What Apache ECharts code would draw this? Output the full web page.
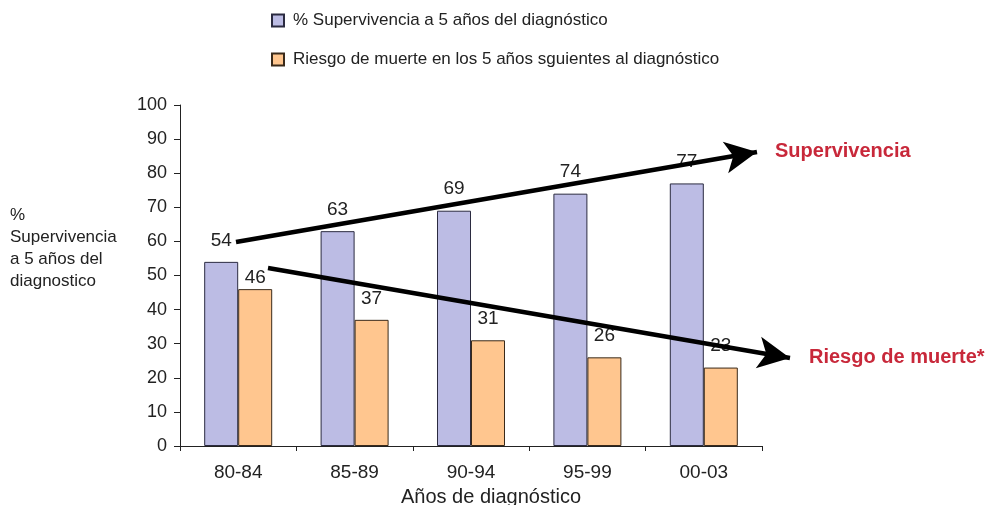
<!DOCTYPE html>
<html>
<head>
<meta charset="utf-8">
<script src="https://cdn.jsdelivr.net/npm/echarts@6/dist/echarts.min.js"></script>
<style>html,body{margin:0;padding:0;background:#fff;}#c{width:985px;height:505px;}</style>
</head>
<body>
<div id="c"></div>
<script>
const categories = ['80-84', '85-89', '90-94', '95-99', '00-03'];
const survival = [54, 63, 69, 74, 77];
const deathRisk = [46, 37, 31, 26, 23];
const yTicks = [0, 10, 20, 30, 40, 50, 60, 70, 80, 90, 100];
const seriesNames = ['% Supervivencia a 5 años del diagnóstico', 'Riesgo de muerte en los 5 años sguientes al diagnóstico'];

const FONT = '"Liberation Sans", Arial, sans-serif';
const chart = echarts.init(document.getElementById('c'));

const arrowLine = (x1, y1, x2, y2) => ({
  symbol: ['none', 'arrow'],
  symbolSize: [24, 32],
  silent: true,
  label: { show: false },
  lineStyle: { color: '#000', width: 4.5, type: 'solid' },
  data: [[{ x: x1, y: y1 }, { x: x2, y: y2 }]]
});

chart.setOption({
  backgroundColor: '#fff',
  animation: false,
  textStyle: { fontFamily: FONT },
  grid: { left: 180, right: 223, top: 105, bottom: 59, containLabel: false, outerBoundsMode: 'none' },
  legend: {
    orient: 'vertical',
    left: 266, top: 7,
    itemWidth: 12, itemHeight: 12, itemGap: 22,
    icon: 'rect',
    textStyle: { fontSize: 17, color: '#222', fontFamily: FONT, padding: [0, 0, 0, 4] },
    data: seriesNames
  },
  xAxis: {
    type: 'category',
    data: categories,
    name: 'Años de diagnóstico',
    nameLocation: 'middle',
    nameGap: 41,
    nameTextStyle: { fontSize: 20, color: '#222', padding: [0, 0, 0, 40] },
    axisLine: { lineStyle: { color: '#222', width: 1 } },
    axisTick: { show: true, alignWithLabel: false, length: 5, lineStyle: { color: '#222' } },
    axisLabel: { fontSize: 19, color: '#222', margin: 17 },
    splitLine: { show: false }
  },
  yAxis: {
    type: 'value',
    min: yTicks[0], max: yTicks[yTicks.length - 1], interval: 10,
    axisLine: { show: true, lineStyle: { color: '#222', width: 1 } },
    axisTick: { show: true, length: 6, lineStyle: { color: '#222' } },
    axisLabel: { fontSize: 18, color: '#222', margin: 13 },
    splitLine: { show: false }
  },
  series: [
    {
      name: seriesNames[0],
      type: 'bar',
      data: survival,
      barWidth: 34,
      barGap: '0%',
      itemStyle: { color: '#bcbce4', borderColor: '#2b2b40', borderWidth: 1 },
      label: { show: true, position: 'top', distance: 12, fontSize: 19, color: '#222' },
      markLine: arrowLine(236, 242, 757, 152)
    },
    {
      name: seriesNames[1],
      type: 'bar',
      data: deathRisk.map((v, i) => i === 0 ? { value: v, label: { offset: [0, 10] } } : v),
      barWidth: 34,
      barGap: '0%',
      itemStyle: { color: '#ffc68f', borderColor: '#3a2a1a', borderWidth: 1 },
      label: { show: true, position: 'top', distance: 12, fontSize: 19, color: '#222' },
      markLine: arrowLine(268, 268, 790, 358)
    }
  ],
  graphic: [
    {
      type: 'text', left: 10, top: 204,
      style: {
        text: '%\nSupervivencia\na 5 años del\ndiagnostico',
        font: '17px ' + FONT, fill: '#222', lineHeight: 22
      }
    },
    {
      type: 'text', left: 775, top: 141,
      style: { text: 'Supervivencia', font: 'bold 20px ' + FONT, fill: '#c8283a' }
    },
    {
      type: 'text', left: 809, top: 347,
      style: { text: 'Riesgo de muerte*', font: 'bold 20px ' + FONT, fill: '#c8283a' }
    }
  ]
});
</script>
</body>
</html>
